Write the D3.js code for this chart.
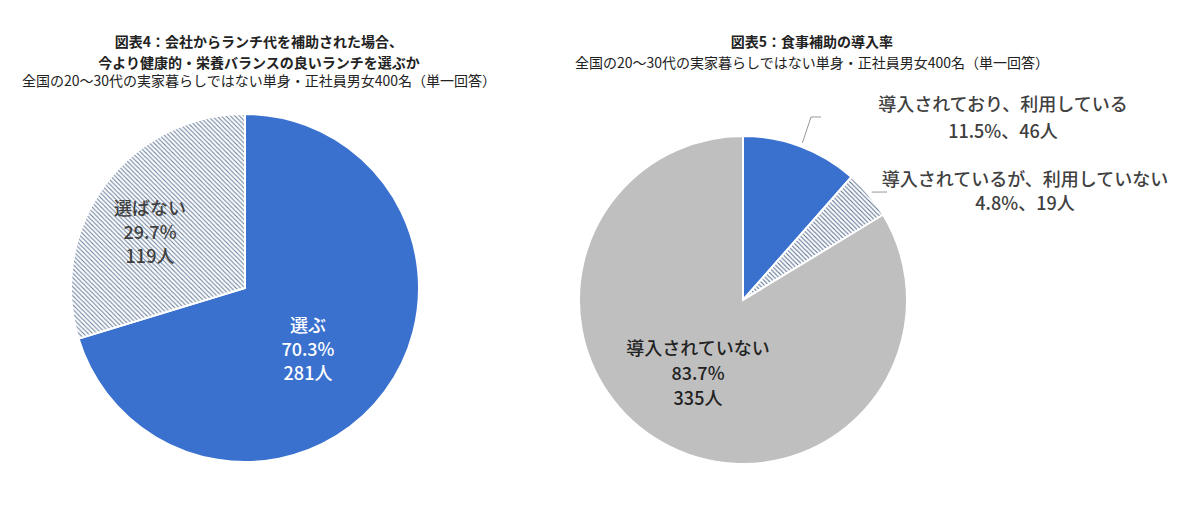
<!DOCTYPE html>
<html><head><meta charset="utf-8">
<script src="https://cdn.jsdelivr.net/npm/d3@7"></script>
<style>
html,body{margin:0;padding:0;background:#fff;}
text{font-family:"Noto Sans CJK JP","Noto Sans",sans-serif;}
</style></head>
<body><svg id="c" width="1200" height="508"></svg>
<script>
// ---- data ----
const chart1Title = ["図表4：会社からランチ代を補助された場合、", "今より健康的・栄養バランスの良いランチを選ぶか"];
const chart1Sub = "全国の20～30代の実家暮らしではない単身・正社員男女400名（単一回答）";
const chart1Categories = ["選ぶ", "選ばない"];
const chart1Percents = [70.3, 29.7];
const chart1Counts = [281, 119];

const chart2Title = ["図表5：食事補助の導入率"];
const chart2Sub = "全国の20～30代の実家暮らしではない単身・正社員男女400名（単一回答）";
const chart2Categories = ["導入されており、利用している", "導入されているが、利用していない", "導入されていない"];
const chart2Percents = [11.5, 4.8, 83.7];
const chart2Counts = [46, 19, 335];

// ---- drawing ----
const svg = d3.select("#c");
const defs = svg.append("defs");
function hatch(id, size, color, width){
  const p = defs.append("pattern").attr("id", id).attr("patternUnits","userSpaceOnUse")
    .attr("width", size).attr("height", size);
  p.append("rect").attr("width",size).attr("height",size).attr("fill","#fff");
  p.append("path").attr("d",`M0,0L${size},${size}M${-size},0L${size},${2*size}M0,${-size}L${2*size},${size}`)
    .attr("stroke",color).attr("stroke-width",width);
}
hatch("h1", 4.5, "#6a809e", 1.1);
hatch("h2", 4.5, "#5a7090", 1.1);

const blue = "#3a71cf", gray = "#bfbfbf";

function titleBlock(cx, lines, sub, y0, dy){
  lines.forEach((t,i)=>{
    svg.append("text").attr("x",cx).attr("y",y0+i*dy).attr("text-anchor","middle")
      .attr("dominant-baseline","central").attr("font-size",14).attr("font-weight","bold")
      .attr("fill","#222").text(t);
  });
  svg.append("text").attr("x",cx).attr("y",y0+lines.length*dy - (lines.length>1?3:0)).attr("text-anchor","middle")
    .attr("dominant-baseline","central").attr("font-size",14).attr("fill","#222").text(sub);
}
titleBlock(259, chart1Title, chart1Sub, 41, 21);
titleBlock(812, chart2Title, chart2Sub, 41, 21);

const pie = d3.pie().sort(null).value(d=>d);

// chart 1
{
  const cx=245, cy=288, r=174;
  const g = svg.append("g").attr("transform",`translate(${cx},${cy})`);
  const arcs = pie(chart1Percents);
  const arc = d3.arc().innerRadius(0).outerRadius(r);
  const fills = [blue, "url(#h1)"];
  g.selectAll("path").data(arcs).join("path").attr("d",arc)
    .attr("fill",(d,i)=>fills[i]).attr("stroke","#fff").attr("stroke-width",2);
  const lblPos = [[63,36],[-95,-81]];
  const lblCol = ["#fff","#404040"];
  arcs.forEach((a,i)=>{
    const lines = [chart1Categories[i], d3.format(".1f")(chart1Percents[i])+"%", chart1Counts[i]+"人"];
    lines.forEach((t,j)=>{
      g.append("text").attr("x",lblPos[i][0]).attr("y",lblPos[i][1]+j*24)
        .attr("text-anchor","middle").attr("dominant-baseline","central")
        .attr("font-size",18).attr("font-weight",500).attr("fill",lblCol[i]).text(t);
    });
  });
}

// chart 2
{
  const cx=743, cy=300, r=164;
  const g = svg.append("g").attr("transform",`translate(${cx},${cy})`);
  const arcs = pie(chart2Percents);
  const arc = d3.arc().innerRadius(0).outerRadius(r);
  const fills = [blue, "url(#h2)", gray];
  g.selectAll("path").data(arcs).join("path").attr("d",arc)
    .attr("fill",(d,i)=>fills[i]).attr("stroke","#fff").attr("stroke-width",2);
  const outer = d3.arc().innerRadius(r+4).outerRadius(r+4);
  const callouts = [
    {bend:[68,-183], end:[78,-183], tx:260, ty:[-197,-170]},
    {bend:[144,-108], end:[144,-108], tx:282, ty:[-122,-98]}
  ];
  callouts.forEach((c,i)=>{
    const p = outer.centroid(arcs[i]);
    g.append("polyline").attr("points",[p, c.bend, c.end].map(q=>q.join(",")).join(" "))
      .attr("fill","none").attr("stroke","#999").attr("stroke-width",1);
    g.append("text").attr("x",c.tx).attr("y",c.ty[0]).attr("text-anchor","middle")
      .attr("dominant-baseline","central").attr("font-size",18).attr("font-weight",500)
      .attr("fill","#404040").text(chart2Categories[i]);
    g.append("text").attr("x",c.tx).attr("y",c.ty[1]).attr("text-anchor","middle")
      .attr("dominant-baseline","central").attr("font-size",18).attr("font-weight",500)
      .attr("fill","#404040").text(d3.format(".1f")(chart2Percents[i])+"%、"+chart2Counts[i]+"人");
  });
  const lines = [chart2Categories[2], d3.format(".1f")(chart2Percents[2])+"%", chart2Counts[2]+"人"];
  lines.forEach((t,j)=>{
    g.append("text").attr("x",-45).attr("y",47+j*25).attr("text-anchor","middle")
      .attr("dominant-baseline","central").attr("font-size",18).attr("font-weight",500)
      .attr("fill","#222").text(t);
  });
}
</script></body></html>
